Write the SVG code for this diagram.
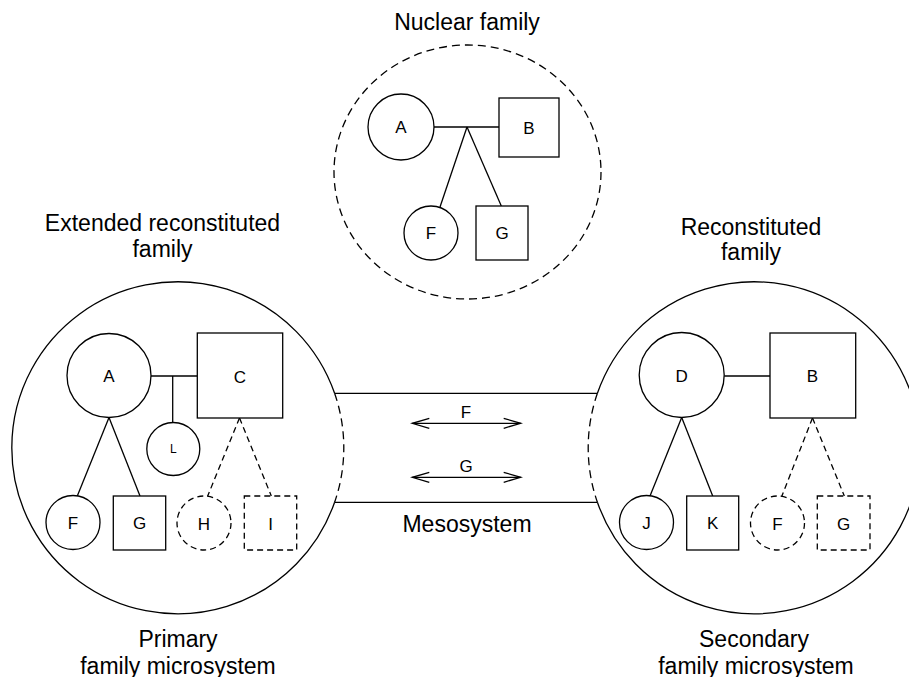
<svg xmlns="http://www.w3.org/2000/svg" width="909" height="677" viewBox="0 0 909 677">
<style>
  .ln{fill:none;stroke:#000;stroke-width:1.3}
  .nd{fill:#fff;stroke:#000;stroke-width:1.3}
  .dn{fill:#fff;stroke:#000;stroke-width:1.3;stroke-dasharray:6,4}
  .dl{fill:none;stroke:#000;stroke-width:1.3;stroke-dasharray:6,4}
  .db{fill:none;stroke:#000;stroke-width:1.3;stroke-dasharray:8,5}
  text{font-family:"Liberation Sans",Arial,Helvetica,sans-serif;fill:#000;text-anchor:middle}
  .lab{font-size:23px}
  .nl{font-size:17px}
  .sm{font-size:12px}
</style>
<defs>
  <marker id="open" viewBox="-18 -6 20 12" refX="0" refY="0" markerWidth="20" markerHeight="12" markerUnits="userSpaceOnUse" orient="auto-start-reverse">
    <path d="M-17,-5 L0,0 L-17,5" fill="none" stroke="#000" stroke-width="1.3"/>
  </marker>
</defs>
<rect width="909" height="677" fill="#fff"/>

<g id="system-boundaries">
  <ellipse id="nuclear-boundary" cx="467.5" cy="172" rx="133.5" ry="127" class="db"/>
  <path id="primary-boundary" d="M334.6,393.3 A166,166 0 1 0 334.6,502.3" class="ln"/>
  <path id="primary-boundary-dashed" d="M334.6,393.3 A166,166 0 0 1 334.6,502.3" class="db"/>
  <path id="secondary-boundary" d="M597.4,393.3 A166,166 0 1 1 597.4,502.3" class="ln"/>
  <path id="secondary-boundary-dashed" d="M597.4,393.3 A166,166 0 0 0 597.4,502.3" class="db"/>
  <line id="meso-top" x1="334.6" y1="393.3" x2="597.4" y2="393.3" class="ln"/>
  <line id="meso-bottom" x1="334.6" y1="502.3" x2="597.4" y2="502.3" class="ln"/>
</g>

<g id="connectors">
  <line x1="434" y1="127" x2="499" y2="127" class="ln"/>
  <line x1="467" y1="127" x2="440" y2="207" class="ln"/>
  <line x1="467" y1="127" x2="501.3" y2="206" class="ln"/>
  <line x1="151" y1="376" x2="197.3" y2="376" class="ln"/>
  <line x1="172.7" y1="376" x2="172.7" y2="422.5" class="ln"/>
  <line x1="109" y1="417.5" x2="77.3" y2="496" class="ln"/>
  <line x1="109" y1="417.5" x2="140" y2="496" class="ln"/>
  <line x1="239.5" y1="418" x2="207.5" y2="496.5" class="dl"/>
  <line x1="239.5" y1="418" x2="271.3" y2="496" class="dl"/>
  <line x1="724.2" y1="376" x2="770" y2="376" class="ln"/>
  <line x1="681.7" y1="417.5" x2="650" y2="496" class="ln"/>
  <line x1="681.7" y1="417.5" x2="712.7" y2="496" class="ln"/>
  <line x1="812.5" y1="418" x2="781.7" y2="496.5" class="dl"/>
  <line x1="812.5" y1="418" x2="844.3" y2="496" class="dl"/>
  <line x1="412.3" y1="423.3" x2="520.7" y2="423.3" class="ln" marker-start="url(#open)" marker-end="url(#open)"/>
  <line x1="412.3" y1="477.3" x2="520.7" y2="477.3" class="ln" marker-start="url(#open)" marker-end="url(#open)"/>
</g>

<g id="nuclear-A"><circle cx="401" cy="127" r="33" class="nd"/><text x="401" y="133" class="nl">A</text></g>
<g id="nuclear-B"><rect x="499" y="98" width="60" height="59" class="nd"/><text x="529" y="133.5" class="nl">B</text></g>
<g id="nuclear-F"><circle cx="431" cy="233" r="27" class="nd"/><text x="431" y="239" class="nl">F</text></g>
<g id="nuclear-G"><rect x="476" y="206" width="52" height="54" class="nd"/><text x="502" y="239" class="nl">G</text></g>

<g id="primary-A"><circle cx="109" cy="375.5" r="42" class="nd"/><text x="109" y="382" class="nl">A</text></g>
<g id="primary-C"><rect x="197.3" y="333" width="85.4" height="85" class="nd"/><text x="240" y="382.5" class="nl">C</text></g>
<g id="primary-L"><circle cx="173.3" cy="449" r="26.5" class="nd"/><text x="173.3" y="453.3" class="sm">L</text></g>
<g id="primary-F"><circle cx="73" cy="522.5" r="27" class="nd"/><text x="73" y="529" class="nl">F</text></g>
<g id="primary-G"><rect x="113.3" y="496" width="52.4" height="54" class="nd"/><text x="139.5" y="529" class="nl">G</text></g>
<g id="primary-H"><circle cx="204" cy="523" r="27" class="dn"/><text x="204" y="529.5" class="nl">H</text></g>
<g id="primary-I"><rect x="244.3" y="496" width="52.4" height="54" class="dn"/><text x="270.5" y="529.5" class="nl">I</text></g>

<g id="secondary-D"><circle cx="681.7" cy="375" r="42.5" class="nd"/><text x="681.7" y="381.5" class="nl">D</text></g>
<g id="secondary-B"><rect x="770" y="333" width="85.7" height="85" class="nd"/><text x="812.5" y="382" class="nl">B</text></g>
<g id="secondary-J"><circle cx="646.5" cy="522.5" r="27" class="nd"/><text x="646.5" y="529" class="nl">J</text></g>
<g id="secondary-K"><rect x="686.7" y="496" width="52" height="54" class="nd"/><text x="712.7" y="529" class="nl">K</text></g>
<g id="secondary-F"><circle cx="777.5" cy="523" r="27" class="dn"/><text x="777.5" y="529.5" class="nl">F</text></g>
<g id="secondary-G"><rect x="817.3" y="496" width="52.7" height="54" class="dn"/><text x="843.7" y="529.5" class="nl">G</text></g>

<g id="labels">
  <text x="467" y="30" class="lab">Nuclear family</text>
  <text x="162.5" y="231" class="lab">Extended reconstituted</text>
  <text x="162.5" y="257" class="lab">family</text>
  <text x="751" y="234.5" class="lab">Reconstituted</text>
  <text x="751" y="259.5" class="lab">family</text>
  <text x="466" y="417.7" class="nl">F</text>
  <text x="466" y="471.7" class="nl">G</text>
  <text x="467" y="532" class="lab">Mesosystem</text>
  <text x="178" y="647.3" class="lab">Primary</text>
  <text x="178" y="673.5" class="lab">family microsystem</text>
  <text x="754" y="647" class="lab">Secondary</text>
  <text x="756" y="673.5" class="lab">family microsystem</text>
</g>
</svg>
